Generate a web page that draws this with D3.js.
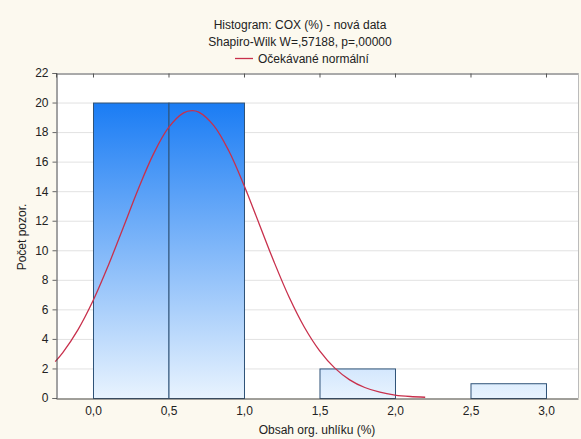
<!DOCTYPE html>
<html>
<head>
<meta charset="utf-8">
<script src="https://cdn.jsdelivr.net/npm/d3@7"></script>
<style>
  body { margin: 0; background: #fcf9ef; }
  svg text { font-family: "Liberation Sans", Arial, sans-serif; fill: #222; }
</style>
</head>
<body>
<script>
// histogram bins (lower edge, upper edge, count)
var binLo = [0.0, 0.5, 1.0, 1.5, 2.0, 2.5];
var binHi = [0.5, 1.0, 1.5, 2.0, 2.5, 3.0];
var counts = [20, 20, 0, 2, 0, 1];
// expected normal curve
var curveX = [-0.25, -0.2, -0.1, 0.0, 0.1, 0.2, 0.3, 0.4, 0.5, 0.6, 0.655, 0.7, 0.8, 0.9, 1.0,
  1.1, 1.2, 1.3, 1.4, 1.5, 1.6, 1.7, 1.8, 1.9, 2.0, 2.1, 2.2];
var curveY = [2.46, 3.07, 4.61, 6.58, 8.94, 11.53, 14.15, 16.51, 18.30, 19.30, 19.45, 19.35, 18.44, 16.72, 14.40,
  11.80, 9.19, 6.80, 4.79, 3.21, 2.04, 1.23, 0.71, 0.39, 0.20, 0.10, 0.05];
var xTicks = [0.0, 0.5, 1.0, 1.5, 2.0, 2.5, 3.0];
var yTicks = [0, 2, 4, 6, 8, 10, 12, 14, 16, 18, 20, 22];

var width = 581, height = 439;
var pLeft = 56, pRight = 578, pTop = 73, pBottom = 398;

var svg = d3.select("body").append("svg")
  .attr("width", width)
  .attr("height", height);

var x = d3.scaleLinear().domain([-0.245, 3.212]).range([pLeft, pRight]);
var y = d3.scaleLinear().domain([0, 22]).range([pBottom, pTop]);
var fmt = function(d) { return d3.format(".1f")(d).replace(".", ","); };

// plot background
svg.append("rect")
  .attr("x", pLeft).attr("y", pTop)
  .attr("width", pRight - pLeft).attr("height", pBottom - pTop)
  .attr("fill", "#ffffff");

// bar gradient over the whole plot height
var grad = svg.append("defs").append("linearGradient")
  .attr("id", "barFill")
  .attr("gradientUnits", "userSpaceOnUse")
  .attr("x1", 0).attr("y1", y(20)).attr("x2", 0).attr("y2", y(0));
grad.append("stop").attr("offset", "0%").attr("stop-color", "#1a7cf4");
grad.append("stop").attr("offset", "100%").attr("stop-color", "#e8f3fe");

// grid lines
svg.append("g").selectAll("line")
  .data(yTicks.filter(function(d) { return d > 0 && d < 22; }))
  .enter().append("line")
  .attr("x1", pLeft).attr("x2", pRight)
  .attr("y1", function(d) { return y(d) + 0.5; })
  .attr("y2", function(d) { return y(d) + 0.5; })
  .attr("stroke", "#e2e2e2")
  .attr("stroke-width", 1);

// bars
svg.append("g").selectAll("rect")
  .data(counts.map(function(c, i) { return {lo: binLo[i], hi: binHi[i], n: c}; })
    .filter(function(d) { return d.n > 0; }))
  .enter().append("rect")
  .attr("x", function(d) { return x(d.lo) + 0.5; })
  .attr("y", function(d) { return y(d.n) + 0.5; })
  .attr("width", function(d) { return x(d.hi) - x(d.lo); })
  .attr("height", function(d) { return y(0) - y(d.n); })
  .attr("fill", "url(#barFill)")
  .attr("stroke", "#2f5378")
  .attr("stroke-width", 1);

// normal curve
var line = d3.line()
  .x(function(d) { return x(d[0]); })
  .y(function(d) { return y(d[1]); })
  .curve(d3.curveCatmullRom);
svg.append("path")
  .datum(curveX.map(function(v, i) { return [v, curveY[i]]; }))
  .attr("d", line)
  .attr("fill", "none")
  .attr("stroke", "#c8304c")
  .attr("stroke-width", 1.3);

// axes
var xAxis = svg.append("g")
  .attr("transform", "translate(0," + (pBottom + 0.5) + ")")
  .call(d3.axisBottom(x).tickValues(xTicks).tickFormat(fmt).tickSize(0).tickPadding(8));
xAxis.select(".domain").attr("stroke", "#444");
xAxis.selectAll("text").attr("font-size", 12).attr("fill", "#222");

var yAxis = svg.append("g")
  .attr("transform", "translate(" + (pLeft + 0.5) + ",0)")
  .call(d3.axisLeft(y).tickValues(yTicks).tickSize(4).tickPadding(4));
yAxis.select(".domain").attr("stroke", "#444");
yAxis.selectAll("line").attr("stroke", "#666");
yAxis.selectAll("text").attr("font-size", 12).attr("fill", "#222");

var topAxis = svg.append("g")
  .attr("transform", "translate(0," + (pTop + 0.5) + ")")
  .call(d3.axisBottom(x).tickValues(xTicks).tickFormat("").tickSize(4));
topAxis.select(".domain").attr("stroke", "#555");
topAxis.selectAll("line").attr("stroke", "#555");

svg.append("line")
  .attr("x1", pRight + 0.5).attr("x2", pRight + 0.5)
  .attr("y1", pTop).attr("y2", pBottom)
  .attr("stroke", "#bbbbbb");

// titles
svg.append("text").attr("x", 300).attr("y", 29)
  .attr("text-anchor", "middle").attr("font-size", 12)
  .text("Histogram: COX (%) - nová data");
svg.append("text").attr("x", 300).attr("y", 46)
  .attr("text-anchor", "middle").attr("font-size", 12)
  .text("Shapiro-Wilk W=,57188, p=,00000");
var leg = svg.append("g").attr("transform", "translate(305,0)");
leg.append("line").attr("x1", -70).attr("x2", -52).attr("y1", 58.5).attr("y2", 58.5)
  .attr("stroke", "#c8304c").attr("stroke-width", 1.3);
leg.append("text").attr("x", -47).attr("y", 63)
  .attr("font-size", 12)
  .text("Očekávané normální");

svg.append("text").attr("x", (pLeft + pRight) / 2).attr("y", 434)
  .attr("text-anchor", "middle").attr("font-size", 12)
  .text("Obsah org. uhlíku (%)");
svg.append("text")
  .attr("transform", "translate(26,237) rotate(-90)")
  .attr("text-anchor", "middle").attr("font-size", 12)
  .text("Počet pozor.");
</script>
</body>
</html>
